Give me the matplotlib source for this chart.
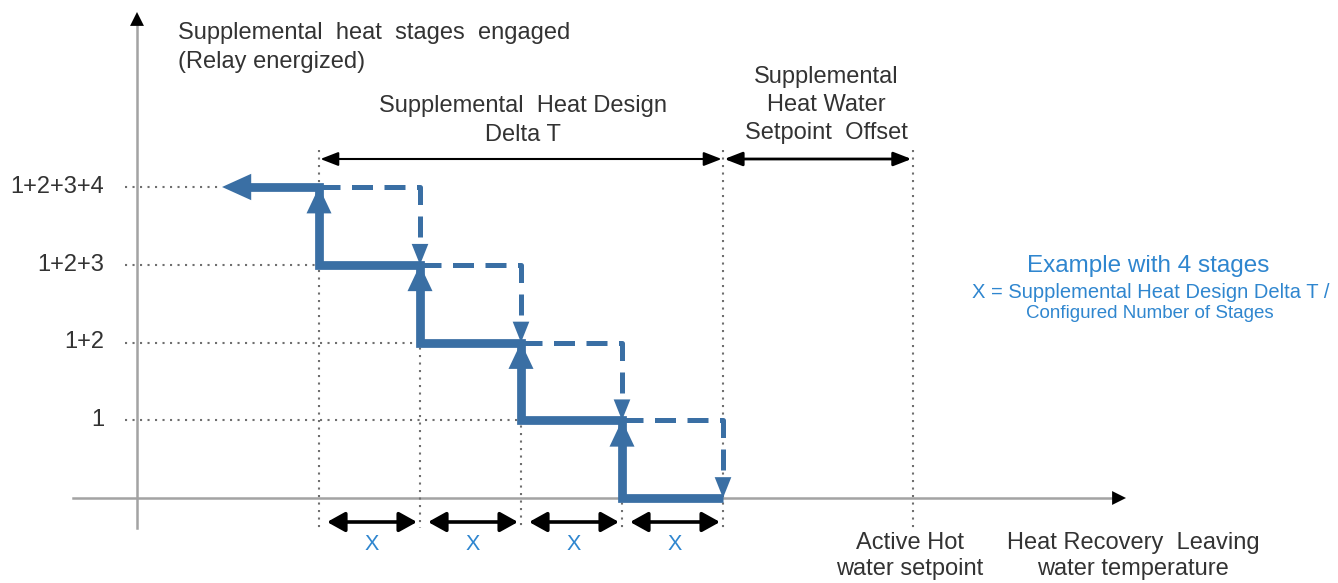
import matplotlib
matplotlib.use("Agg")
import matplotlib.pyplot as plt

# ---------------- data ----------------
stage_labels = ["1", "1+2", "1+2+3", "1+2+3+4"]
stage_levels = [1, 2, 3, 4]
stage_on_x = [3, 2, 1, 0]        # solid: stage energised (in X units)
stage_off_x = [4, 3, 2, 1]       # dashed: stage de-energised (in X units)
design_start = 0
design_end = 4
setpoint_x = 5.88
x_segments = [0, 1, 2, 3, 4]
x_label = "X"
left_arrow_end = -0.96

# ---------------- layout helpers (pixel -> data) ----------------
W, H = 1338, 583
X0PX, XSTEP = 319, 101.0
Y0PX, YSTEP = 498, 77.75
def px2x(p): return (p - X0PX) / XSTEP
def px2y(p): return (Y0PX - p) / YSTEP

BLUE = "#3a6fa4"
GREY = "#6f6f6f"
AXIS = "#a3a3a3"
TXT = "#333333"
TBLUE = "#2f86cf"
FONT = "Liberation Sans"
FS = 17

fig = plt.figure(figsize=(W / 100, H / 100), dpi=100)
ax = fig.add_axes([0, 0, 1, 1])
ax.set_xlim(px2x(0), px2x(W))
ax.set_ylim(px2y(H), px2y(0))
ax.axis("off")

def head(tip, base, L, Wd, color, z=5):
    ax.annotate("", xy=tip, xytext=base,
                arrowprops=dict(arrowstyle=f"-|>,head_length={L},head_width={Wd}",
                                color=color, lw=0, shrinkA=0, shrinkB=0,
                                mutation_scale=1), zorder=z)

# ---------------- axes ----------------
ax.plot([px2x(73), px2x(1118)], [0, 0], color=AXIS, lw=1.8, zorder=1)
head((px2x(1126), 0), (px2x(1100), 0), 10, 5, "black")
ax.plot([px2x(137), px2x(137)], [px2y(528), px2y(20)], color=AXIS, lw=1.8, zorder=1)
head((px2x(137), px2y(12)), (px2x(137), px2y(40)), 10, 5, "black")

# ---------------- dotted guides ----------------
dot = dict(color=GREY, lw=1.5, linestyle=(0, (1, 2.6)), zorder=2)
for lvl, xon in zip(stage_levels, stage_on_x):
    xend = left_arrow_end if lvl == 4 else xon
    ax.plot([px2x(125), xend], [lvl, lvl], **dot)
for i, xv in enumerate(x_segments):
    top = px2y(150) if xv in (design_start, design_end) else 4 - i
    ax.plot([xv, xv], [top, px2y(528)], **dot)
ax.plot([setpoint_x, setpoint_x], [px2y(150), px2y(530)], **dot)

# ---------------- solid staircase ----------------
sx = [design_end]
sy = [0]
for lvl, xon in zip(stage_levels, stage_on_x):
    sx += [xon, xon]
    sy += [lvl - 1, lvl]
sx.append(left_arrow_end + 0.2)
sy.append(4)
ax.plot(sx, sy, color=BLUE, lw=6.3, solid_joinstyle="miter",
        solid_capstyle="butt", zorder=4)
for lvl, xon in zip(stage_levels, stage_on_x):
    head((xon, lvl), (xon, lvl - 0.5), 19, 9, BLUE)
head((left_arrow_end, 4), (left_arrow_end + 0.5, 4), 21, 9.5, BLUE)

# ---------------- dashed staircase ----------------
for lvl, xon, xoff in zip(stage_levels, stage_on_x, stage_off_x):
    ax.plot([xon, xoff, xoff], [lvl, lvl, lvl - 1 + 0.2], color=BLUE, lw=3.6,
            dashes=(4.2, 2.3), solid_joinstyle="miter", zorder=3)
    head((xoff, lvl - 1), (xoff, lvl - 0.6), 15, 6, BLUE)

# ---------------- dimension arrows ----------------
yd = px2y(159)
ax.annotate("", xy=(design_end, yd), xytext=(design_start, yd),
            arrowprops=dict(arrowstyle="<|-|>,head_length=0.9,head_width=0.35",
                            color="black", lw=1.5, shrinkA=1, shrinkB=1,
                            mutation_scale=12))
ax.annotate("", xy=(setpoint_x, yd), xytext=(design_end, yd),
            arrowprops=dict(arrowstyle="<|-|>,head_length=0.9,head_width=0.35",
                            color="black", lw=2.0, shrinkA=1, shrinkB=1,
                            mutation_scale=12))
yx = px2y(522)
for a, b in zip(x_segments[:-1], x_segments[1:]):
    ax.annotate("", xy=(b - 0.03, yx), xytext=(a + 0.08, yx),
                arrowprops=dict(arrowstyle="<|-|>,head_length=0.9,head_width=0.5",
                                color="black", lw=2.6, shrinkA=0, shrinkB=0,
                                mutation_scale=12))
    ax.text((a + b) / 2 + 0.02, px2y(544), x_label, color=TBLUE, fontsize=15.5,
            family=FONT, ha="center", va="center")

# ---------------- tick labels ----------------
for lvl, lab in zip(stage_levels, stage_labels):
    ax.text(px2x(104), lvl, lab, ha="right", va="center", fontsize=FS,
            color=TXT, family=FONT)

# ---------------- texts ----------------
def t(xp, yp, s, **kw):
    kw.setdefault("fontsize", FS)
    kw.setdefault("color", TXT)
    kw.setdefault("family", FONT)
    kw.setdefault("ha", "center")
    kw.setdefault("va", "center")
    ax.text(px2x(xp), px2y(yp), s, **kw)

t(178, 33, "Supplemental  heat  stages  engaged", ha="left")
t(178, 62, "(Relay energized)", ha="left")
t(523, 106, "Supplemental  Heat Design")
t(523, 135, "Delta T")
t(826, 77, "Supplemental")
t(826, 105, "Heat Water")
t(826, 133, "Setpoint  Offset")
t(910, 543, "Active Hot")
t(910, 569, "water setpoint")
t(1133, 543, "Heat Recovery  Leaving")
t(1133, 569, "water temperature")

t(1148, 266, "Example with 4 stages", color=TBLUE, fontsize=17.5)
t(972, 292, "X = Supplemental Heat Design Delta T /", color=TBLUE,
  fontsize=14.5, ha="left")
t(1150, 313, "Configured Number of Stages", color=TBLUE, fontsize=13.5)

fig.savefig("out.png", dpi=100)
